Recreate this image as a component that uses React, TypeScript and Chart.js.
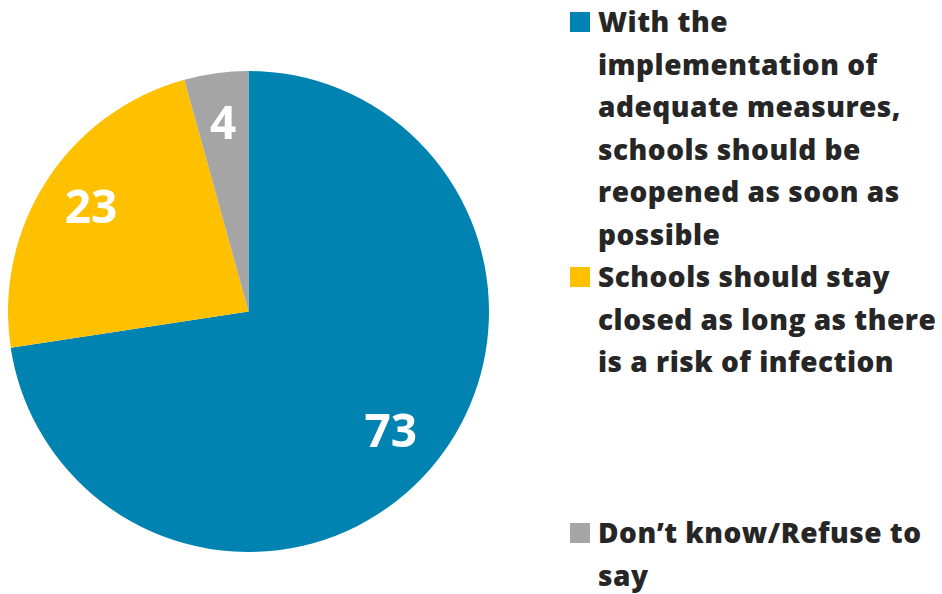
import React, { useEffect, useRef } from "react";
import { Chart, registerables } from "chart.js";

Chart.register(...registerables);

const categories: string[][] = [
  ["With the", "implementation of", "adequate measures,", "schools should be", "reopened as soon as", "possible"],
  ["Schools should stay", "closed as long as there", "is a risk of infection"],
  ["Don\u2019t know/Refuse to", "say"],
];
// slice shares; labels show the rounded figures
const values: number[] = [72.6, 23.1, 4.3];
const valueLabelsText: string[] = ["73", "23", "4"];
const colors: string[] = ["#0083B1", "#FFC000", "#A5A5A5"];
const legendTops: number[] = [0, 255, 511];

const FONT = "'Open Sans', 'Noto Sans', sans-serif";

const valueLabels = {
  id: "valueLabels",
  afterDatasetsDraw(chart: any) {
    const ctx = chart.ctx;
    const meta = chart.getDatasetMeta(0);
    ctx.save();
    ctx.fillStyle = "#FFFFFF";
    ctx.font = `bold 46px ${FONT}`;
    ctx.textAlign = "center";
    ctx.textBaseline = "middle";
    meta.data.forEach((arc: any, i: number) => {
      const { x, y, startAngle, endAngle, outerRadius } = arc.getProps(
        ["x", "y", "startAngle", "endAngle", "outerRadius"],
        true
      );
      const mid = (startAngle + endAngle) / 2;
      const r = outerRadius * 0.78;
      ctx.fillText(valueLabelsText[i], x + Math.cos(mid) * r, y + Math.sin(mid) * r);
    });
    ctx.restore();
  },
};

export default function App() {
  const ref = useRef<HTMLCanvasElement | null>(null);
  useEffect(() => {
    if (!ref.current) return;
    const chart = new Chart(ref.current, {
      type: "pie",
      data: {
        labels: categories.map((c) => c.join(" ")),
        datasets: [
          {
            data: values,
            backgroundColor: colors,
            borderWidth: 0,
          },
        ],
      },
      options: {
        responsive: false,
        animation: false,
        layout: { padding: 0 },
        plugins: {
          legend: { display: false },
          tooltip: { enabled: false },
        },
      },
      plugins: [valueLabels],
    });
    return () => chart.destroy();
  }, []);

  return (
    <div
      style={{
        position: "absolute",
        left: 0,
        top: 0,
        width: 942,
        height: 594,
        background: "#FFFFFF",
        overflow: "hidden",
      }}
    >
      <canvas
        ref={ref}
        width={481}
        height={481}
        style={{ position: "absolute", left: 8, top: 71, width: 481, height: 481 }}
      />
      {categories.map((lines, i) => (
        <div
          key={i}
          style={{
            position: "absolute",
            left: 570,
            top: legendTops[i],
            width: 372,
          }}
        >
          <div
            style={{
              position: "absolute",
              left: 0,
              top: 12,
              width: 20,
              height: 20,
              background: colors[i],
            }}
          />
          <div
            style={{
              position: "absolute",
              left: 28,
              top: 0,
              fontFamily: FONT,
              fontWeight: 800,
              fontSize: 28,
              letterSpacing: "0.5px",
              lineHeight: "42.5px",
              color: "#262626",
              whiteSpace: "nowrap",
            }}
          >
            {lines.map((l, j) => (
              <div key={j}>{l}</div>
            ))}
          </div>
        </div>
      ))}
    </div>
  );
}
